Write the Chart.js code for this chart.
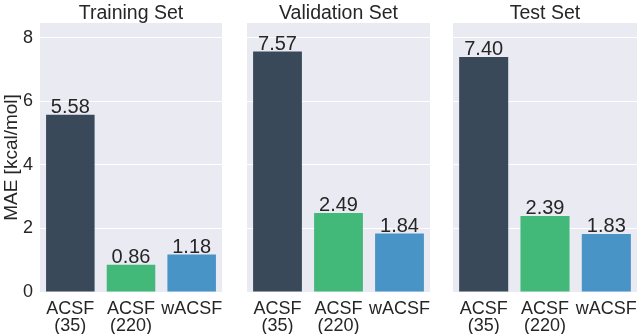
<!DOCTYPE html>
<html>
<head>
<meta charset="utf-8">
<script src="https://cdn.jsdelivr.net/npm/chart.js@4"></script>
<style>
  body { margin: 0; background: #fff; }
  #wrap { position: relative; width: 638px; height: 334px; }
  canvas { position: absolute; top: 0; }
</style>
</head>
<body>
<div id="wrap">
  <canvas id="c1" width="224" height="334" style="left:0px"></canvas>
  <canvas id="c2" width="200" height="334" style="left:232px"></canvas>
  <canvas id="c3" width="204" height="334" style="left:434px"></canvas>
</div>
<script>
// data
const categories = [['ACSF', '(35)'], ['ACSF', '(220)'], ['wACSF']];
const panelTitles = ['Training Set', 'Validation Set', 'Test Set'];
const trainingMAE = [5.58, 0.86, 1.18];
const validationMAE = [7.57, 2.49, 1.84];
const testMAE = [7.40, 2.39, 1.83];
const barColors = ['#394959', '#42b879', '#4994c6'];
const yTicks = [0, 2, 4, 6, 8];

const textColor = '#262626';
const fontFam = '"Liberation Sans", Arial, sans-serif';

// fond gris + titre + valeurs au-dessus des barres
const panelPlugin = {
  id: 'panelPlugin',
  beforeDraw(chart) {
    const a = chart.chartArea, ctx = chart.ctx;
    ctx.save();
    ctx.fillStyle = '#eaeaf2';
    ctx.fillRect(a.left, a.top, a.right - a.left, a.bottom - a.top);
    ctx.restore();
  },
  afterDatasetsDraw(chart) {
    const ctx = chart.ctx, a = chart.chartArea;
    const opts = chart.options.plugins.panelPlugin;
    ctx.save();
    ctx.fillStyle = textColor;
    ctx.textAlign = 'center';
    ctx.textBaseline = 'alphabetic';
    ctx.font = '19.5px ' + fontFam;
    ctx.fillText(opts.title, (a.left + a.right) / 2, 19);
    ctx.font = '20px ' + fontFam;
    const meta = chart.getDatasetMeta(0);
    const vals = chart.data.datasets[0].data;
    meta.data.forEach((bar, i) => {
      ctx.fillText(vals[i].toFixed(2), bar.x, bar.y - 2);
    });
    ctx.restore();
  }
};

function makePanel(id, values, title, showY, padLeft, padRight) {
  const ctx = document.getElementById(id).getContext('2d');
  return new Chart(ctx, {
    type: 'bar',
    data: {
      labels: categories,
      datasets: [{
        data: values,
        backgroundColor: barColors,
        borderWidth: 0,
        barPercentage: 0.8,
        categoryPercentage: 1.0
      }]
    },
    options: {
      responsive: false,
      animation: false,
      layout: { padding: { top: 23, right: padRight, left: padLeft, bottom: 0 } },
      plugins: {
        legend: { display: false },
        tooltip: { enabled: false },
        panelPlugin: { title: title }
      },
      scales: {
        x: {
          grid: { display: false },
          border: { display: false },
          ticks: {
            color: textColor,
            font: { family: fontFam, size: 18, lineHeight: 0.96 },
            padding: 0,
            maxRotation: 0,
            autoSkip: false
          },
          afterFit(scale) { scale.height = 42; }
        },
        y: {
          min: 0,
          max: 8.47,
          grid: { color: '#ffffff', lineWidth: 1, drawTicks: false },
          border: { display: false },
          afterBuildTicks(scale) { scale.ticks = yTicks.map(v => ({ value: v })); },
          ticks: {
            display: showY,
            color: textColor,
            font: { family: fontFam, size: 18 },
            padding: 7
          },
          title: {
            display: showY,
            text: 'MAE [kcal/mol]',
            color: textColor,
            font: { family: fontFam, size: 19 },
            padding: { top: 0, bottom: 0 }
          },
          afterFit(scale) { scale.width = showY ? 40 : 0; }
        }
      }
    },
    plugins: [panelPlugin]
  });
}

makePanel('c1', trainingMAE, panelTitles[0], true, 0, 2);
makePanel('c2', validationMAE, panelTitles[1], false, 15, 2);
makePanel('c3', testMAE, panelTitles[2], false, 19, 1);
</script>
</body>
</html>
